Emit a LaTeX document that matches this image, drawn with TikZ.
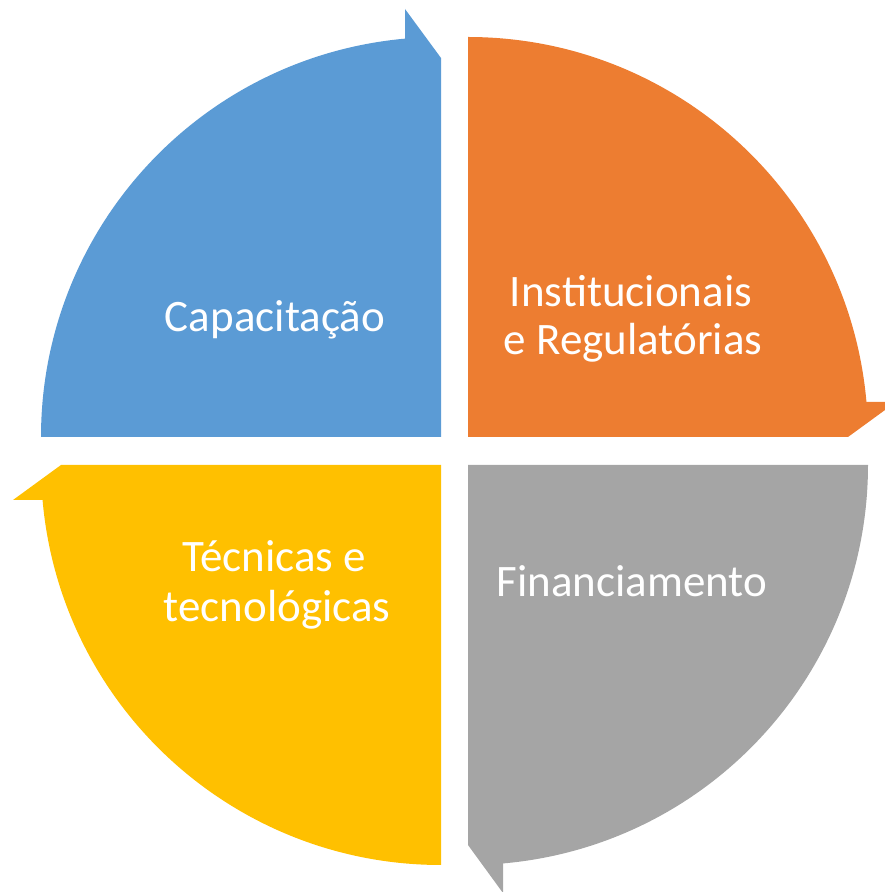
\documentclass[tikz,border=0pt]{standalone}
\usepackage{fontspec}
\setmainfont{Carlito}
\definecolor{qblue}{HTML}{5B9BD5}
\definecolor{qorange}{HTML}{ED7D31}
\definecolor{qgray}{HTML}{A5A5A5}
\definecolor{qyellow}{HTML}{FFC000}
\tikzset{
  quad/.style={draw=none},
  lbl/.style={text=white, inner sep=0pt, anchor=base, font=\fontsize{45}{48}\selectfont}
}
\begin{document}
\begin{tikzpicture}[x=1pt,y=1pt]
\useasboundingbox (0,0) rectangle (884,892);
% blue (top-left)
\fill[qblue, quad] (441,455) -- ++(-400,0) arc[start angle=180, end angle=95.16, radius=400]
  -- (405,883) -- (441,834) -- cycle;
% orange (top-right)
\fill[qorange, quad] (468,455) -- ++(0,400) arc[start angle=90, end angle=5.02, radius=400]
  -- (896,490) -- (848,455) -- cycle;
% gray (bottom-right)
\fill[qgray, quad] (468,427) -- ++(400,0) arc[start angle=0, end angle=-84.98, radius=400]
  -- (503,-1) -- (468,47) -- cycle;
% yellow (bottom-left)
\fill[qyellow, quad] (441,427) -- ++(0,-400) arc[start angle=270, end angle=185.02, radius=400]
  -- (13,392) -- (61,427) -- cycle;
\node[lbl] (cap) at (275,560) {Capacitação};
\node[lbl] (ins1) at (631,585) {Institucionais};
\node[lbl] (ins2) at (633,537) {e Regulatórias};
\node[lbl] (tec1) at (274,320) {Técnicas e};
\node[lbl] (tec2) at (277,270) {tecnológicas};
\node[lbl] (fin) at (632,295) {Financiamento};
\end{tikzpicture}
\end{document}
